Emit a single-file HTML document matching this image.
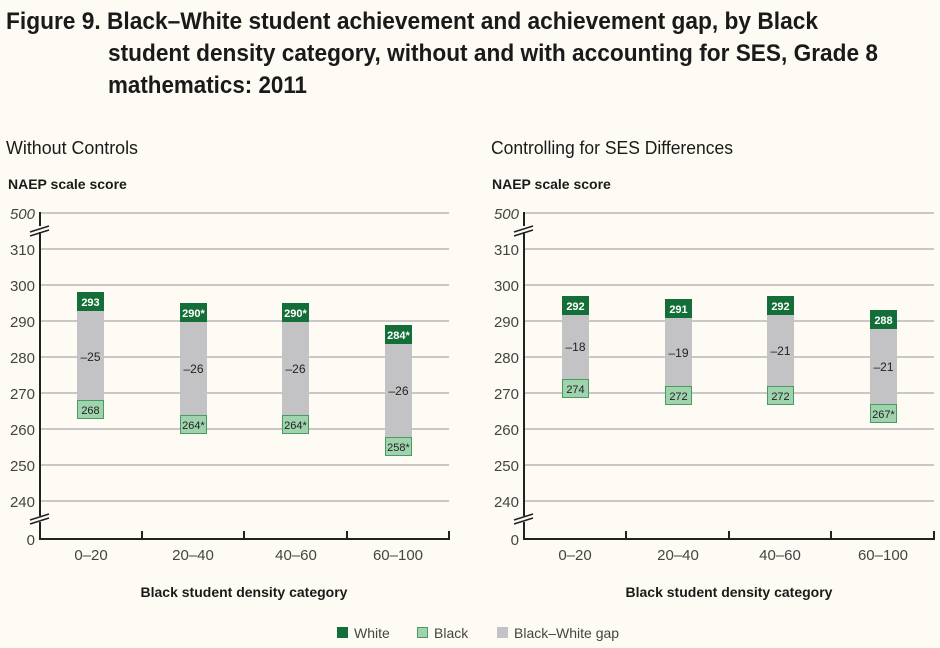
<!DOCTYPE html>
<html><head><meta charset="utf-8"><style>
body{margin:0;background:#fdfbf3;}
svg{display:block}
</style></head><body>
<svg width="940" height="648" viewBox="0 0 940 648" xmlns="http://www.w3.org/2000/svg" font-family="Liberation Sans, sans-serif">
<rect width="940" height="648" fill="#fdfbf3"/>
<g font-weight="bold" font-size="24" fill="#1a1a1a" lengthAdjust="spacingAndGlyphs">
<text x="6" y="29" textLength="812" lengthAdjust="spacingAndGlyphs">Figure 9. Black–White student achievement and achievement gap, by Black</text>
<text x="108" y="61" textLength="770" lengthAdjust="spacingAndGlyphs">student density category, without and with accounting for SES, Grade 8</text>
<text x="108" y="93" textLength="199" lengthAdjust="spacingAndGlyphs">mathematics: 2011</text>
</g>
<g font-size="18" fill="#1a1a1a">
<text x="6" y="154" textLength="132" lengthAdjust="spacingAndGlyphs">Without Controls</text>
<text x="491" y="154" textLength="242" lengthAdjust="spacingAndGlyphs">Controlling for SES Differences</text>
</g>
<g font-weight="bold" font-size="14" fill="#1a1a1a">
<text x="8" y="189">NAEP scale score</text>
<text x="492" y="189">NAEP scale score</text>
</g>
<!-- left chart -->
<g>
<g stroke="#aaa" stroke-width="1.3">
<line x1="40" y1="213" x2="449" y2="213"/><line x1="40" y1="249" x2="449" y2="249"/>
<line x1="40" y1="285" x2="449" y2="285"/><line x1="40" y1="321" x2="449" y2="321"/>
<line x1="40" y1="357" x2="449" y2="357"/><line x1="40" y1="393" x2="449" y2="393"/>
<line x1="40" y1="429" x2="449" y2="429"/><line x1="40" y1="465" x2="449" y2="465"/>
<line x1="40" y1="501" x2="449" y2="501"/>
</g>
<line x1="40" y1="212" x2="40" y2="539" stroke="#222" stroke-width="2"/>
<line x1="39" y1="539" x2="450" y2="539" stroke="#222" stroke-width="2"/>
<g stroke="#222" stroke-width="2"><line x1="142" y1="531" x2="142" y2="539"/><line x1="244" y1="531" x2="244" y2="539"/><line x1="347" y1="531" x2="347" y2="539"/><line x1="449" y1="531" x2="449" y2="539"/></g>
<g stroke="#222" stroke-width="1.5"><rect x="30" y="226" width="20" height="6" fill="#fdfbf3" stroke="none"/><line x1="30" y1="232" x2="49" y2="226"/><line x1="30" y1="236" x2="49" y2="230"/>
<rect x="30" y="516" width="20" height="6" fill="#fdfbf3" stroke="none"/><line x1="30" y1="520" x2="49" y2="514"/><line x1="30" y1="524" x2="49" y2="518"/></g>
<g font-size="15" fill="#444" text-anchor="end">
<text x="35" y="219" font-style="italic">500</text><text x="35" y="255">310</text><text x="35" y="291">300</text><text x="35" y="327">290</text><text x="35" y="363">280</text><text x="35" y="399">270</text><text x="35" y="435">260</text><text x="35" y="471">250</text><text x="35" y="507">240</text><text x="35" y="545">0</text>
</g>
<g font-size="15" fill="#444" text-anchor="middle"><text x="91" y="560">0–20</text><text x="193" y="560">20–40</text><text x="296" y="560">40–60</text><text x="398" y="560">60–100</text></g>
<text x="244" y="597" text-anchor="middle" font-weight="bold" font-size="14" fill="#1a1a1a">Black student density category</text>
</g>
<!-- right chart -->
<g>
<g stroke="#aaa" stroke-width="1.3">
<line x1="524" y1="213" x2="934" y2="213"/><line x1="524" y1="249" x2="934" y2="249"/>
<line x1="524" y1="285" x2="934" y2="285"/><line x1="524" y1="321" x2="934" y2="321"/>
<line x1="524" y1="357" x2="934" y2="357"/><line x1="524" y1="393" x2="934" y2="393"/>
<line x1="524" y1="429" x2="934" y2="429"/><line x1="524" y1="465" x2="934" y2="465"/>
<line x1="524" y1="501" x2="934" y2="501"/>
</g>
<line x1="524" y1="212" x2="524" y2="539" stroke="#222" stroke-width="2"/>
<line x1="523" y1="539" x2="935" y2="539" stroke="#222" stroke-width="2"/>
<g stroke="#222" stroke-width="2"><line x1="626" y1="531" x2="626" y2="539"/><line x1="729" y1="531" x2="729" y2="539"/><line x1="831" y1="531" x2="831" y2="539"/><line x1="934" y1="531" x2="934" y2="539"/></g>
<g stroke="#222" stroke-width="1.5"><rect x="514" y="226" width="20" height="6" fill="#fdfbf3" stroke="none"/><line x1="514" y1="232" x2="533" y2="226"/><line x1="514" y1="236" x2="533" y2="230"/>
<rect x="514" y="516" width="20" height="6" fill="#fdfbf3" stroke="none"/><line x1="514" y1="520" x2="533" y2="514"/><line x1="514" y1="524" x2="533" y2="518"/></g>
<g font-size="15" fill="#444" text-anchor="end">
<text x="519" y="219" font-style="italic">500</text><text x="519" y="255">310</text><text x="519" y="291">300</text><text x="519" y="327">290</text><text x="519" y="363">280</text><text x="519" y="399">270</text><text x="519" y="435">260</text><text x="519" y="471">250</text><text x="519" y="507">240</text><text x="519" y="545">0</text>
</g>
<g font-size="15" fill="#444" text-anchor="middle"><text x="575" y="560">0–20</text><text x="678" y="560">20–40</text><text x="780" y="560">40–60</text><text x="883" y="560">60–100</text></g>
<text x="729" y="597" text-anchor="middle" font-weight="bold" font-size="14" fill="#1a1a1a">Black student density category</text>
</g>
<g font-size="11">
<rect x="77" y="310" width="27" height="90" fill="#c3c3c5"/>
<rect x="77" y="292" width="27" height="19" fill="#136f37"/><text x="90.5" y="306" text-anchor="middle" fill="#fff" font-weight="bold">293</text>
<rect x="77.5" y="400.5" width="26" height="18" fill="#9fd3ad" stroke="#4a9a62"/><text x="90.5" y="414" text-anchor="middle" fill="#222">268</text>
<text x="90.5" y="361" text-anchor="middle" fill="#222" font-size="12">–25</text>

<rect x="180" y="321" width="27" height="94" fill="#c3c3c5"/>
<rect x="180" y="303" width="27" height="19" fill="#136f37"/><text x="193.5" y="317" text-anchor="middle" fill="#fff" font-weight="bold">290*</text>
<rect x="180.5" y="415.5" width="26" height="18" fill="#9fd3ad" stroke="#4a9a62"/><text x="193.5" y="429" text-anchor="middle" fill="#222">264*</text>
<text x="193.5" y="373" text-anchor="middle" fill="#222" font-size="12">–26</text>

<rect x="282" y="321" width="27" height="94" fill="#c3c3c5"/>
<rect x="282" y="303" width="27" height="19" fill="#136f37"/><text x="295.5" y="317" text-anchor="middle" fill="#fff" font-weight="bold">290*</text>
<rect x="282.5" y="415.5" width="26" height="18" fill="#9fd3ad" stroke="#4a9a62"/><text x="295.5" y="429" text-anchor="middle" fill="#222">264*</text>
<text x="295.5" y="373" text-anchor="middle" fill="#222" font-size="12">–26</text>

<rect x="385" y="343" width="27" height="94" fill="#c3c3c5"/>
<rect x="385" y="325" width="27" height="19" fill="#136f37"/><text x="398.5" y="339" text-anchor="middle" fill="#fff" font-weight="bold">284*</text>
<rect x="385.5" y="437.5" width="26" height="18" fill="#9fd3ad" stroke="#4a9a62"/><text x="398.5" y="451" text-anchor="middle" fill="#222">258*</text>
<text x="398.5" y="395" text-anchor="middle" fill="#222" font-size="12">–26</text>

<rect x="562" y="314" width="27" height="65" fill="#c3c3c5"/>
<rect x="562" y="296" width="27" height="19" fill="#136f37"/><text x="575.5" y="310" text-anchor="middle" fill="#fff" font-weight="bold">292</text>
<rect x="562.5" y="379.5" width="26" height="18" fill="#9fd3ad" stroke="#4a9a62"/><text x="575.5" y="393" text-anchor="middle" fill="#222">274</text>
<text x="575.5" y="351" text-anchor="middle" fill="#222" font-size="12">–18</text>

<rect x="665" y="317" width="27" height="69" fill="#c3c3c5"/>
<rect x="665" y="299" width="27" height="19" fill="#136f37"/><text x="678.5" y="313" text-anchor="middle" fill="#fff" font-weight="bold">291</text>
<rect x="665.5" y="386.5" width="26" height="18" fill="#9fd3ad" stroke="#4a9a62"/><text x="678.5" y="400" text-anchor="middle" fill="#222">272</text>
<text x="678.5" y="357" text-anchor="middle" fill="#222" font-size="12">–19</text>

<rect x="767" y="314" width="27" height="72" fill="#c3c3c5"/>
<rect x="767" y="296" width="27" height="19" fill="#136f37"/><text x="780.5" y="310" text-anchor="middle" fill="#fff" font-weight="bold">292</text>
<rect x="767.5" y="386.5" width="26" height="18" fill="#9fd3ad" stroke="#4a9a62"/><text x="780.5" y="400" text-anchor="middle" fill="#222">272</text>
<text x="780.5" y="355" text-anchor="middle" fill="#222" font-size="12">–21</text>

<rect x="870" y="328" width="27" height="76" fill="#c3c3c5"/>
<rect x="870" y="310" width="27" height="19" fill="#136f37"/><text x="883.5" y="324" text-anchor="middle" fill="#fff" font-weight="bold">288</text>
<rect x="870.5" y="404.5" width="26" height="18" fill="#9fd3ad" stroke="#4a9a62"/><text x="883.5" y="418" text-anchor="middle" fill="#222">267*</text>
<text x="883.5" y="371" text-anchor="middle" fill="#222" font-size="12">–21</text>
</g>
<g font-size="14" fill="#444">
<rect x="337" y="627" width="11" height="11" fill="#136f37"/><text x="354" y="638">White</text>
<rect x="417.5" y="627.5" width="10" height="10" fill="#9fd3ad" stroke="#4a9a62"/><text x="434" y="638">Black</text>
<rect x="497" y="627" width="11" height="11" fill="#c3c3c5"/><text x="514" y="638">Black–White gap</text>
</g>
</svg>
</body></html>
